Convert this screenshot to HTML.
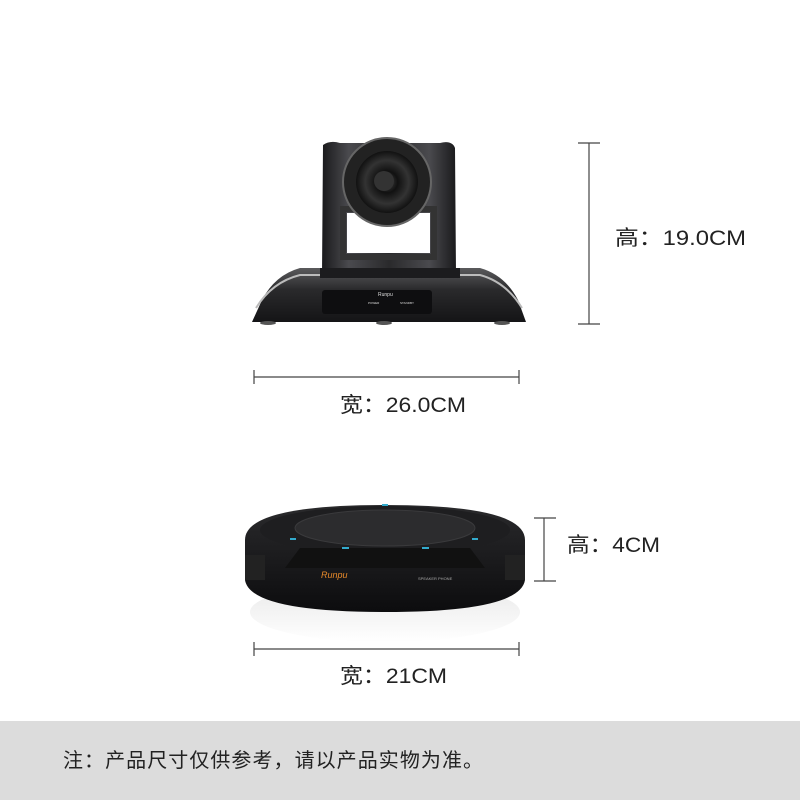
<!DOCTYPE html>
<html><head><meta charset="utf-8"><style>
html,body{margin:0;padding:0;background:#fff;}
svg{display:block}
text{font-family:"Liberation Sans","Noto Sans CJK SC",sans-serif;fill:#222;}
</style></head><body>
<svg width="800" height="800" viewBox="0 0 800 800" xmlns="http://www.w3.org/2000/svg">
<defs>
<linearGradient id="bg1" x1="0" y1="0" x2="0" y2="1"><stop offset="0" stop-color="#5a5a5c"/><stop offset="0.4" stop-color="#2a2a2c"/><stop offset="1" stop-color="#141416"/></linearGradient>
<linearGradient id="hd" x1="0" y1="0" x2="1" y2="0"><stop offset="0" stop-color="#1a1a1c"/><stop offset="0.2" stop-color="#4a4a4e"/><stop offset="0.5" stop-color="#2a2a2c"/><stop offset="0.8" stop-color="#4a4a4e"/><stop offset="1" stop-color="#1a1a1c"/></linearGradient>
<radialGradient id="ln"><stop offset="0" stop-color="#444"/><stop offset="0.35" stop-color="#111"/><stop offset="0.7" stop-color="#333"/><stop offset="1" stop-color="#111"/></radialGradient>
<linearGradient id="sp" x1="0" y1="0" x2="0" y2="1"><stop offset="0" stop-color="#2a2a2c"/><stop offset="1" stop-color="#0c0c0e"/></linearGradient>
<linearGradient id="refl" x1="0" y1="0" x2="0" y2="1"><stop offset="0" stop-color="#e8e8e8"/><stop offset="1" stop-color="#fff"/></linearGradient>
</defs>
<path d="M252 322 L262 300 Q275 275 300 268 L480 268 Q505 275 518 300 L526 322 Z" fill="url(#bg1)"/>
<path d="M256 308 Q272 282 300 275 L480 275 Q506 282 522 308" fill="none" stroke="#bbb" stroke-width="2"/>
<rect x="322" y="290" width="110" height="24" rx="3" fill="#0e0e10"/>
<path d="M323 145 Q330 140 340 143 L440 143 Q452 140 455 148 L456 275 L322 275 Z" fill="url(#hd)"/>
<rect x="343" y="209" width="91" height="48" fill="none" stroke="#333" stroke-width="6"/>
<rect x="347" y="213" width="83" height="40" fill="#fff"/>
<circle cx="387" cy="182" r="44" fill="#222" stroke="#666" stroke-width="2"/>
<circle cx="387" cy="182" r="31" fill="url(#ln)"/>
<circle cx="384" cy="181" r="10" fill="#333"/>
<rect x="320" y="268" width="140" height="10" fill="#1c1c1e"/>
<text x="378" y="296" font-size="5" style="fill:#ddd">Runpu</text>
<text x="368" y="304" font-size="3" style="fill:#ddd">POWER</text>
<text x="400" y="304" font-size="3" style="fill:#ddd">STANDBY</text>
<ellipse cx="268" cy="323" rx="8" ry="2" fill="#555"/><ellipse cx="384" cy="323" rx="8" ry="2" fill="#555"/><ellipse cx="502" cy="323" rx="8" ry="2" fill="#555"/>
<ellipse cx="385" cy="612" rx="135" ry="30" fill="url(#refl)"/>
<path d="M245 540 Q245 505 385 505 Q525 505 525 540 L525 580 Q520 612 385 612 Q250 612 245 580 Z" fill="url(#sp)"/>
<ellipse cx="385" cy="530" rx="125" ry="24" fill="#1e1e20"/>
<ellipse cx="385" cy="528" rx="90" ry="18" fill="#2c2c2e" stroke="#3a3a3c"/>
<path d="M300 548 L470 548 L485 568 L285 568 Z" fill="#111"/>
<rect x="245" y="555" width="20" height="25" fill="#222"/><rect x="505" y="555" width="20" height="25" fill="#222"/>
<rect x="382" y="504" width="6" height="2" fill="#3ac"/>
<rect x="290" y="538" width="6" height="2" fill="#3ac"/><rect x="472" y="538" width="6" height="2" fill="#3ac"/>
<rect x="342" y="547" width="7" height="2" fill="#3ac"/><rect x="422" y="547" width="7" height="2" fill="#3ac"/>
<text x="321" y="578" font-size="9" style="fill:#e88a2a;font-style:italic">Runpu</text>
<text x="418" y="580" font-size="4" style="fill:#aaa">SPEAKER PHONE</text>
<g stroke="#444" stroke-width="1.2">
<line x1="589" y1="143" x2="589" y2="324"/><line x1="578" y1="143" x2="600" y2="143"/><line x1="578" y1="324" x2="600" y2="324"/>
<line x1="254" y1="377" x2="519" y2="377"/><line x1="254" y1="370" x2="254" y2="384"/><line x1="519" y1="370" x2="519" y2="384"/>
<line x1="544" y1="518" x2="544" y2="581"/><line x1="534" y1="518" x2="556" y2="518"/><line x1="534" y1="581" x2="556" y2="581"/>
<line x1="254" y1="649" x2="519" y2="649"/><line x1="254" y1="642" x2="254" y2="656"/><line x1="519" y1="642" x2="519" y2="656"/>
</g>
<text x="615" y="245" font-size="21" textLength="131" lengthAdjust="spacingAndGlyphs">高：19.0CM</text>
<text x="340" y="412" font-size="21" textLength="126" lengthAdjust="spacingAndGlyphs">宽：26.0CM</text>
<text x="567" y="552" font-size="21" textLength="93" lengthAdjust="spacingAndGlyphs">高：4CM</text>
<text x="340" y="683" font-size="21" textLength="107" lengthAdjust="spacingAndGlyphs">宽：21CM</text>
<rect x="0" y="721" width="800" height="79" fill="#dcdcdc"/>
<text x="63" y="767" font-size="20" textLength="420" lengthAdjust="spacing">注：产品尺寸仅供参考，请以产品实物为准。</text>
</svg>
</body></html>
